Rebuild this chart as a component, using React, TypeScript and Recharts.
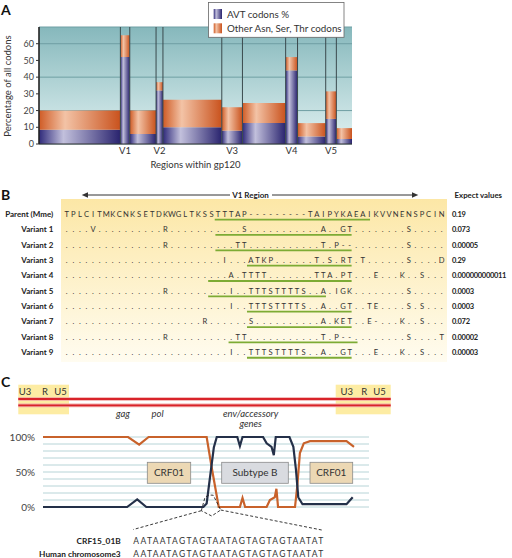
import React from "react";
import { ComposedChart, LineChart, Line, XAxis, YAxis, CartesianGrid, ReferenceArea, ReferenceLine } from "recharts";

const FONT = "Lato, 'Liberation Sans', sans-serif";

// Panel A: codon composition per gp120 region (x = codon position)
const regions = ["C1", "V1", "C2", "V2", "C2b", "V3", "C3", "V4", "C4", "V5", "C5"];
const regionEdges = [0, 130, 145, 187, 198, 292, 325, 394, 413, 458, 475, 500];
const avtPct = [8.5, 52, 6, 32, 10, 8, 12.5, 44, 4.5, 15, 3];
const otherPct = [11.5, 13, 14, 5, 16.5, 14, 12, 8, 8, 16.5, 6.5];
const yTicksA = [0, 10, 20, 30, 40, 50, 60];

// Panel B: V1 region alignment
const rowNames = ["Parent (Mme)", "Variant 1", "Variant 2", "Variant 3", "Variant 4", "Variant 5", "Variant 6", "Variant 7", "Variant 8", "Variant 9"];
const sequences = [
  "TPLCITMKCN" + "KSETDKWGLT" + "KSSTTTAP--" + "-------TAI" + "PYKAEAIKVV" + "NENSPCIN",
  "....V....." + ".....R...." + ".......S.." + ".........A" + "..GT......" + "..S.....",
  ".........." + ".....R...." + "......TT.." + ".........T" + ".P--......" + "..S.....",
  ".........." + ".........." + "....I...AT" + "KP......T." + "S.RT.T...." + "..S....D",
  ".........." + ".........." + ".....A.TTT" + "T.......TT" + "A.PT...E.." + ".K..S...",
  ".........." + ".....R...." + ".....I..TT" + "TSTTTTS..A" + ".IGK......" + "..S.....",
  ".........." + ".........." + ".....I..TT" + "TSTTTTS..A" + "..GT..TE.." + "..S.S...",
  ".........." + ".........." + ".R......S." + ".........A" + ".KET..E-.." + ".K..S...",
  ".........." + ".....R...." + "......TT.." + ".........T" + ".P--......" + "..S....T",
  ".........." + ".........." + ".....I..TT" + "TSTTTTS..A" + "..GT...E.." + ".K..S...",
];
const expectValues = ["0.19", "0.073", "0.00005", "0.29", "0.000000000011", "0.0003", "0.0003", "0.072", "0.00002", "0.00003"];
const underlineCols = [
  [22.5, 46.1], [22.6, 43.3], [22.6, 43.3], [27.4, 43.3], [21.5, 43.3],
  [21.5, 39.4], [27.4, 43.3], [27.4, 43.3], [24.6, 44.2], [27.4, 43.3],
];

// Panel C: bootscan similarity (x = genome position %, y = %)
const crf01Pos = [0, 26.1, 29.5, 32.4, 50.2, 51.8, 53.9, 60.4, 61.2, 62, 68.6, 69.6, 71.1, 71.6, 72.1, 77.3, 78, 78.8, 80, 81.9, 93.1, 95.4];
const crf01Pct = [100, 100, 89, 100, 100, 55, 0, 0, 13, 0, 0, 10, 14, 26, 0, 0, 30, 77, 91, 94, 94, 86];
const subBPos = [0, 25.8, 28.9, 31.7, 49.2, 50.2, 52.4, 53.3, 59.6, 60.4, 61.2, 67.5, 68.6, 70.1, 70.8, 71.4, 75.6, 76.8, 77.6, 78.3, 79.6, 93.1, 95];
const subBPct = [0, 0, 11, 0, 0, 5, 85, 100, 100, 87, 100, 100, 91, 86, 74, 100, 100, 86, 53, 14, 4, 4, 14];
const yTicksC = [0, 10, 20, 30, 40, 50, 60, 70, 80, 90, 100];
const seqCRF = "AATAATAGTAGTAATAGTAGTAGTAATAT";
const seqHuman = "AATAATAGTAGTAATAGTAGTAGTAATAT";

const segData = regions.map((r, i) => ({
  region: r,
  start: regionEdges[i],
  end: regionEdges[i + 1],
  mid: (regionEdges[i] + regionEdges[i + 1]) / 2,
  avt: avtPct[i],
  total: avtPct[i] + otherPct[i],
}));
const vSegs = segData.filter(d => d.region.startsWith("V"));
const vTicks = vSegs.map(d => d.mid);
const vLines = vSegs.flatMap(d => [d.start, d.end]);

const crf01Data = crf01Pos.map((p, i) => ({ pos: p, pct: crf01Pct[i] }));
const subBData = subBPos.map((p, i) => ({ pos: p, pct: subBPct[i] }));

const COL0 = 66.7;
const PITCH = 6.58;
const rowY = (i: number) => 214 + i * 15.35;

const BarGradients = () => (
  <defs>
    <linearGradient id="blueBar" x1="0" y1="0" x2="1" y2="0">
      <stop offset="0" stopColor="#2f2a7a" />
      <stop offset="0.3" stopColor="#c2c0dc" />
      <stop offset="1" stopColor="#29236e" />
    </linearGradient>
    <linearGradient id="orangeBar" x1="0" y1="0" x2="1" y2="0">
      <stop offset="0" stopColor="#cf5b25" />
      <stop offset="0.32" stopColor="#f3c3a6" />
      <stop offset="1" stopColor="#c9521d" />
    </linearGradient>
    <linearGradient id="bgA" x1="0" y1="0" x2="0" y2="1">
      <stop offset="0" stopColor="#86b8bc" />
      <stop offset="1" stopColor="#e0f1f1" />
    </linearGradient>
  </defs>
);

const Overlay = () => (
  <svg width={512} height={558} style={{ position: "absolute", left: 0, top: 0, pointerEvents: "none" }} fontFamily={FONT}>
    <BarGradients />
    <defs>
      <linearGradient id="yellowB" x1="0" y1="0" x2="0" y2="1">
        <stop offset="0" stopColor="#fce7a6" />
        <stop offset="1" stopColor="#fffcf0" />
      </linearGradient>
    </defs>
    {/* panel letters */}
    <text x={1} y={15} fontSize={14} fontWeight={700} fill="#111">A</text>
    <text x={1} y={200} fontSize={14} fontWeight={700} fill="#111">B</text>
    <text x={1} y={387} fontSize={14} fontWeight={700} fill="#111">C</text>

    {/* panel A labels and legend */}
    <text x={7} y={86} fontSize={9.5} fill="#333" textAnchor="middle" dominantBaseline="central" transform="rotate(-90 7 86)">Percentage of all codons</text>
    <text x={195.5} y={167.5} fontSize={9.5} fill="#333" textAnchor="middle">Regions within gp120</text>
    <rect x={208.5} y={2.5} width={135.5} height={34.8} fill="#fff" stroke="#666" strokeWidth={0.8} />
    <rect x={213.7} y={9} width={8.3} height={10} fill="url(#blueBar)" />
    <rect x={213.7} y={23.3} width={8.3} height={10} fill="url(#orangeBar)" />
    <text x={227} y={17.6} fontSize={9.8} fill="#333">AVT codons %</text>
    <text x={227} y={32} fontSize={9.8} fill="#333">Other Asn, Ser, Thr codons</text>

    {/* panel B */}
    <line x1={86} y1={195} x2={230} y2={195} stroke="#333" strokeWidth={1} />
    <line x1={272} y1={195} x2={414} y2={195} stroke="#333" strokeWidth={1} />
    <path d="M81.7 195 L88 192.3 L88 197.7 Z" fill="#333" />
    <path d="M418.3 195 L412 192.3 L412 197.7 Z" fill="#333" />
    <text x={250.5} y={198} fontSize={8} fontWeight={700} fill="#222" textAnchor="middle">V1 Region</text>
    <text x={502} y={198} fontSize={7.8} fontWeight={700} fill="#222" textAnchor="end">Expect values</text>
    <rect x={61} y={199} width={386} height={163} fill="url(#yellowB)" />
    {sequences.map((seq, r) => (
      <g key={r}>
        <text x={53.3} y={rowY(r) + 3} fontSize={8} fontWeight={700} fill="#222" textAnchor="end">{rowNames[r]}</text>
        {seq.split("").map((ch, c) => (
          <text key={c} x={COL0 + c * PITCH} y={rowY(r) + 3} fontSize={7.6} fill="#333" textAnchor="middle">{ch}</text>
        ))}
        <line x1={COL0 + underlineCols[r][0] * PITCH} x2={COL0 + underlineCols[r][1] * PITCH} y1={rowY(r) + 5.6} y2={rowY(r) + 5.6} stroke="#7dab34" strokeWidth={1.8} />
        <text x={452} y={rowY(r) + 3} fontSize={7.5} letterSpacing={-0.3} fontWeight={700} fill="#222">{expectValues[r]}</text>
      </g>
    ))}

    {/* panel C genome map */}
    <rect x={18.3} y={384.7} width={50.7} height={29.6} fill="#fdeca3" />
    <rect x={335.7} y={384.7} width={55} height={29.6} fill="#fdeca3" />
    <line x1={18.3} x2={390.7} y1={399} y2={399} stroke="#f2a7a5" strokeWidth={3.6} />
    <line x1={18.3} x2={390.7} y1={405.4} y2={405.4} stroke="#f2a7a5" strokeWidth={3.6} />
    <line x1={18.3} x2={390.7} y1={399} y2={399} stroke="#d8232a" strokeWidth={1.8} />
    <line x1={18.3} x2={390.7} y1={405.4} y2={405.4} stroke="#d8232a" strokeWidth={1.8} />
    {[["U3", 25], ["R", 45], ["U5", 60.5], ["U3", 346.7], ["R", 364.3], ["U5", 379.5]].map(([t, x], i) => (
      <text key={i} x={x as number} y={395} fontSize={9.5} fill="#333" textAnchor="middle">{t}</text>
    ))}
    <text x={123} y={417} fontSize={9.5} fontStyle="italic" fill="#333" textAnchor="middle">gag</text>
    <text x={157.5} y={417} fontSize={9.5} fontStyle="italic" fill="#333" textAnchor="middle">pol</text>
    <text x={250.7} y={417} fontSize={9.5} fontStyle="italic" fill="#333" textAnchor="middle">env/accessory</text>
    <text x={250.7} y={427} fontSize={9.5} fontStyle="italic" fill="#333" textAnchor="middle">genes</text>

    {/* region boxes */}
    <rect x={147.3} y={462.3} width={43.4} height={21} fill="#ecd8b4" stroke="#8a8a8a" strokeWidth={0.8} />
    <text x={169} y={476.3} fontSize={10} fill="#333" textAnchor="middle">CRF01</text>
    <rect x={221.7} y={462.3} width={66.6} height={21} fill="#d9dbe0" stroke="#8a8a8a" strokeWidth={0.8} />
    <text x={255} y={476.3} fontSize={10} fill="#333" textAnchor="middle">Subtype B</text>
    <rect x={310} y={462.3} width={42.7} height={21} fill="#ecd8b4" stroke="#8a8a8a" strokeWidth={0.8} />
    <text x={331.3} y={476.3} fontSize={10} fill="#333" textAnchor="middle">CRF01</text>

    {/* zoom-in to the breakpoint */}
    <g fill="none" stroke="#222" strokeWidth={0.9} strokeDasharray="3 2">
      <path d="M201.3 510.7 L205 497.3 Q209 494.5 213.3 495.3 L220.7 510 L211.7 516 Z" />
      <path d="M201.3 510.7 L133.3 529.5" />
      <path d="M220.7 510 L321.7 530" />
    </g>
    <text x={120.7} y={543.7} fontSize={8.3} fontWeight={700} fill="#222" textAnchor="end">CRF15_01B</text>
    <text x={120.7} y={557} fontSize={8.3} fontWeight={700} fill="#222" textAnchor="end">Human chromosome3</text>
    <text x={133.3} y={543.7} fontSize={8.5} fill="#333" textLength={190} lengthAdjust="spacing">{seqCRF}</text>
    <text x={133.3} y={557} fontSize={8.5} fill="#333" textLength={190} lengthAdjust="spacing">{seqHuman}</text>
  </svg>
);

export default function App() {
  return (
    <div style={{ position: "relative", width: 512, height: 558, background: "#fff", fontFamily: FONT }}>
      <style>{"body{margin:0}"}</style>
      <div style={{ position: "absolute", left: 0, top: 0 }}>
        <ComposedChart width={512} height={175} data={segData} margin={{ top: 27, right: 160, bottom: 0, left: 0 }}>
          <BarGradients />
          <CartesianGrid vertical={false} stroke="#6f9fa4" fill="url(#bgA)" fillOpacity={1} />
          <XAxis
            type="number"
            dataKey="mid"
            domain={[0, 500]}
            ticks={vTicks}
            tickFormatter={v => segData.find(d => d.mid === v)?.region ?? ""}
            tickSize={0}
            tickMargin={3}
            height={31}
            axisLine={{ stroke: "#333", strokeWidth: 1.2 }}
            tick={{ fill: "#333", fontSize: 9.5, fontFamily: FONT }}
          />
          <YAxis
            type="number"
            domain={[0, 70]}
            ticks={yTicksA}
            width={39}
            tickSize={3}
            tickMargin={2}
            axisLine={{ stroke: "#222", strokeWidth: 1.6 }}
            tickLine={{ stroke: "#333" }}
            tick={{ fill: "#444", fontSize: 9, fontFamily: FONT }}
          />
          {segData.map(d => (
            <ReferenceArea key={d.region + "-avt"} x1={d.start} x2={d.end} y1={0} y2={d.avt} fill="url(#blueBar)" fillOpacity={1} />
          ))}
          {segData.map(d => (
            <ReferenceArea key={d.region + "-oth"} x1={d.start} x2={d.end} y1={d.avt} y2={d.total} fill="url(#orangeBar)" fillOpacity={1} />
          ))}
          {vLines.map(x => (
            <ReferenceLine key={x} x={x} stroke="#3a4a4d" strokeWidth={1} />
          ))}
          <Line dataKey="total" stroke="none" dot={false} activeDot={false} isAnimationActive={false} />
        </ComposedChart>
      </div>
      <div style={{ position: "absolute", left: 0, top: 430 }}>
        <LineChart width={512} height={85} margin={{ top: 7, right: 143, bottom: 8, left: 0 }}>
          <CartesianGrid vertical={false} stroke="#b7d4d7" />
          <XAxis type="number" dataKey="pos" domain={[0, 100]} hide />
          <YAxis
            type="number"
            domain={[0, 100]}
            ticks={yTicksC}
            interval={0}
            tickFormatter={v => (v % 50 === 0 ? `${v}%` : "")}
            axisLine={false}
            tickLine={false}
            width={43}
            tickMargin={2}
            tick={{ fill: "#444", fontSize: 10, fontFamily: FONT }}
          />
          <Line data={crf01Data} dataKey="pct" type="linear" stroke="#c8622b" strokeWidth={2.2} dot={false} activeDot={false} isAnimationActive={false} />
          <Line data={subBData} dataKey="pct" type="linear" stroke="#243049" strokeWidth={2.2} dot={false} activeDot={false} isAnimationActive={false} />
        </LineChart>
      </div>
      <Overlay />
    </div>
  );
}
